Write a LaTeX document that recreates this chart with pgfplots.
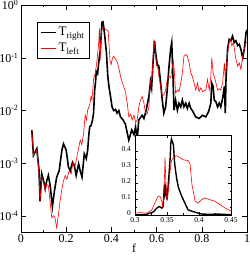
\documentclass[border=0pt]{standalone}
\usepackage{fontspec}
\setmainfont{Liberation Serif}
\usepackage{pgfplots}
\pgfplotsset{compat=1.18}
\definecolor{tred}{RGB}{255,0,0}
\begin{document}
\begin{tikzpicture}
\begin{axis}[
  at={(0pt,0pt)}, anchor=south west,
  scale only axis, width=226pt, height=227pt,
  xmin=0, xmax=1, ymode=log, log basis y=10, ymin=5e-5, ymax=1,
  xtick={0,0.2,0.4,0.6,0.8,1}, xticklabels={0,0.2,0.4,0.6,0.8,1},
  minor x tick num=1,
  ytick={1e-4,1e-3,1e-2,1e-1,1},
  yticklabel={\pgfmathtruncatemacro\e{round(\tick)}10\textsuperscript{\e}},
  /pgf/number format/assume math mode=true,
  tick align=inside, major tick length=5pt, minor tick length=2.5pt,
  tick style={black, line width=0.5pt},
  axis line style={line width=0.7pt},
  xtick pos=both, ytick pos=both,
  font=\fontsize{12}{14}\selectfont,
  ticklabel style={font=\fontsize{12}{14}\selectfont},
  xticklabel style={yshift=1pt},
  yticklabel style={xshift=1pt},
  xlabel={f}, xlabel style={yshift=6pt},
  legend cell align=left,
  legend style={at={(axis description cs:0.07,0.925)}, anchor=north west,
    draw=black, line width=0.6pt, inner xsep=3pt, inner ysep=3pt,
    font=\fontsize{13}{15}\selectfont, row sep=2pt},
  legend image code/.code={\draw[#1] (0pt,0pt) -- (15pt,0pt);},
]
\addplot[black, line width=1.6pt] coordinates {
(0.048,0.00427)(0.055,0.00141)(0.062,0.00162)(0.07,0.00191)(0.08,0.000724)
(0.084,0.000195)(0.092,0.00063)(0.1,0.000468)(0.107,0.000331)(0.114,0.000468)
(0.121,0.000589)(0.129,0.00038)(0.139,0.000151)(0.148,0.000302)(0.158,0.00055)
(0.169,0.000724)(0.181,0.00178)(0.188,0.00234)(0.2,0.00178)(0.21,0.000851)
(0.218,0.000724)(0.228,0.00105)(0.236,0.000912)(0.244,0.000589)(0.255,0.000977)
(0.262,0.00072)(0.27,0.00055)(0.28,0.00151)(0.289,0.00123)(0.295,0.00178)
(0.3,0.0034)(0.304,0.0049)(0.31,0.0052)(0.316,0.0065)(0.321,0.0089)
(0.326,0.0245)(0.33,0.0355)(0.333,0.055)(0.339,0.05)(0.347,0.107)
(0.351,0.138)(0.358,0.468)(0.363,0.479)(0.369,0.302)(0.378,0.126)
(0.384,0.0447)(0.39,0.0269)(0.396,0.0186)(0.403,0.0117)(0.41,0.01)
(0.418,0.0105)(0.425,0.00891)(0.433,0.01)(0.44,0.00759)(0.452,0.00661)
(0.462,0.0055)(0.477,0.00275)(0.49,0.0043)(0.5,0.0035)(0.507,0.0049)
(0.514,0.0028)(0.521,0.00661)(0.536,0.00813)(0.544,0.00708)(0.554,0.0102)
(0.566,0.0186)(0.573,0.0355)(0.578,0.0269)(0.584,0.0794)(0.591,0.209)
(0.596,0.123)(0.603,0.0741)(0.61,0.0692)(0.618,0.0331)(0.625,0.0158)
(0.632,0.00891)(0.64,0.0117)(0.647,0.0245)(0.655,0.0692)(0.662,0.145)
(0.667,0.195)(0.673,0.0389)(0.677,0.0102)(0.684,0.0158)(0.692,0.0102)
(0.699,0.0138)(0.707,0.0117)(0.714,0.0158)(0.721,0.0117)(0.729,0.0138)
(0.736,0.011)(0.744,0.0138)(0.751,0.011)(0.758,0.01)(0.773,0.00759)
(0.788,0.00708)(0.803,0.00813)(0.818,0.00759)(0.83,0.00955)(0.84,0.0138)
(0.844,0.0331)(0.85,0.0288)(0.855,0.0158)(0.862,0.0148)(0.87,0.0117)
(0.877,0.0138)(0.884,0.0117)(0.892,0.017)(0.9,0.0288)(0.904,0.00891)
(0.907,0.0389)(0.914,0.145)(0.921,0.224)(0.929,0.21)(0.936,0.257)
(0.944,0.195)(0.951,0.21)(0.959,0.17)(0.966,0.18)(0.973,0.145)
(0.981,0.1)(0.988,0.145)(0.996,0.302)(1.0,0.339)
};
\addlegendentry{T\textsubscript{right}}
\addplot[tred, line width=0.6pt] coordinates {
(0.048,0.00427)(0.055,0.00141)(0.062,0.00162)(0.07,0.00178)(0.08,0.00063)
(0.084,0.000182)(0.092,0.00055)(0.1,0.000468)(0.107,0.000302)(0.114,0.000398)
(0.121,0.00038)(0.129,0.000182)(0.136,0.0000933)(0.144,0.000102)(0.151,0.0000891)
(0.158,0.0000603)(0.166,0.00011)(0.173,0.000195)(0.181,0.000324)(0.188,0.000468)
(0.196,0.000589)(0.203,0.000501)(0.213,0.000724)(0.222,0.000631)(0.23,0.00105)
(0.24,0.000912)(0.25,0.00151)(0.262,0.00275)(0.269,0.00224)(0.277,0.00372)
(0.284,0.0083)(0.29,0.0066)(0.295,0.0102)(0.304,0.0129)(0.31,0.0186)
(0.314,0.0158)(0.321,0.039)(0.329,0.0513)(0.336,0.0871)(0.344,0.195)
(0.347,0.36)(0.349,0.15)(0.351,0.09)(0.353,0.2)(0.357,0.34)
(0.36,0.36)(0.365,0.37)(0.373,0.35)(0.381,0.335)(0.386,0.32)
(0.389,0.19)(0.394,0.085)(0.399,0.075)(0.404,0.096)(0.409,0.106)
(0.418,0.096)(0.425,0.085)(0.433,0.064)(0.441,0.043)(0.447,0.0355)
(0.455,0.028)(0.462,0.0229)(0.47,0.0138)(0.477,0.00759)(0.485,0.0085)
(0.492,0.00661)(0.5,0.00813)(0.507,0.00603)(0.514,0.0065)(0.521,0.0117)
(0.529,0.0158)(0.536,0.0186)(0.544,0.0138)(0.551,0.00891)(0.558,0.0085)
(0.566,0.0117)(0.573,0.0355)(0.58,0.0389)(0.588,0.224)(0.593,0.145)
(0.599,0.0741)(0.607,0.0603)(0.61,0.0447)(0.618,0.0288)(0.625,0.0186)
(0.632,0.02)(0.64,0.0245)(0.647,0.0389)(0.655,0.0447)(0.662,0.0417)
(0.67,0.0692)(0.674,0.0871)(0.68,0.0447)(0.684,0.0214)(0.692,0.0245)
(0.699,0.0229)(0.707,0.0331)(0.714,0.0513)(0.721,0.107)(0.729,0.115)
(0.736,0.107)(0.744,0.0794)(0.751,0.0513)(0.758,0.0447)(0.766,0.0331)
(0.773,0.0245)(0.781,0.0331)(0.788,0.0229)(0.796,0.027)(0.803,0.0229)
(0.818,0.0245)(0.825,0.0389)(0.833,0.0245)(0.84,0.0447)(0.844,0.1)
(0.85,0.0513)(0.859,0.0389)(0.87,0.0245)(0.877,0.026)(0.884,0.0245)
(0.892,0.0331)(0.9,0.0794)(0.904,0.0389)(0.91,0.0794)(0.918,0.17)
(0.925,0.224)(0.933,0.17)(0.94,0.195)(0.951,0.0933)(0.959,0.0692)
(0.966,0.08)(0.973,0.0603)(0.981,0.107)(0.988,0.145)(0.996,0.195)(1.0,0.2)
};
\addlegendentry{T\textsubscript{left}}
\end{axis}
\begin{axis}[
  at={(114pt,17pt)}, anchor=south west,
  scale only axis, width=96pt, height=80pt,
  xmin=0.3, xmax=0.45, ymin=0, ymax=0.5,
  xtick={0.3,0.35,0.4,0.45}, xticklabels={0.3,0.35,0.4,0.45},
  ytick={0,0.1,0.2,0.3,0.4}, yticklabels={0,0.1,0.2,0.3,0.4},
  minor x tick num=1, minor y tick num=1,
  tick align=inside, major tick length=3pt, minor tick length=1.5pt,
  tick style={black, line width=0.4pt},
  axis line style={line width=0.6pt},
  xtick pos=both, ytick pos=both,
  ticklabel style={font=\fontsize{7.5}{9}\selectfont},
  xticklabel style={yshift=1pt},
  yticklabel style={xshift=-0.5pt, yshift=1.5pt},
  axis background/.style={fill=white},
]
\addplot[black, line width=1.4pt] coordinates {
(0.3,0)(0.318,0.004)(0.329,0.02)(0.334,0.043)(0.338,0.053)(0.342,0.043)
(0.344,0.053)(0.346,0.19)(0.347,0.14)(0.348,0.17)(0.35,0.096)(0.352,0.19)
(0.355,0.36)(0.356,0.45)(0.357,0.475)(0.36,0.44)(0.362,0.32)(0.365,0.23)
(0.368,0.17)(0.373,0.117)(0.378,0.074)(0.383,0.032)(0.391,0.021)(0.396,0.015)
(0.404,0.006)(0.417,0.004)(0.428,0.006)(0.45,0.002)
};
\addplot[tred, line width=0.6pt] coordinates {
(0.3,0.011)(0.308,0.015)(0.318,0.011)(0.326,0.03)(0.331,0.074)(0.336,0.117)
(0.339,0.117)(0.342,0.085)(0.343,0.053)(0.345,0.106)(0.347,0.36)(0.348,0.23)
(0.35,0.085)(0.352,0.15)(0.355,0.28)(0.357,0.34)(0.36,0.36)(0.365,0.37)
(0.37,0.36)(0.375,0.345)(0.383,0.34)(0.386,0.32)(0.389,0.19)(0.394,0.085)
(0.399,0.074)(0.404,0.096)(0.409,0.106)(0.417,0.096)(0.425,0.085)(0.433,0.064)
(0.441,0.043)(0.448,0.028)(0.45,0.026)
};
\end{axis}
\pgfresetboundingbox
\path (-21pt,-25pt) rectangle (228pt,232pt);
\end{tikzpicture}
\end{document}
